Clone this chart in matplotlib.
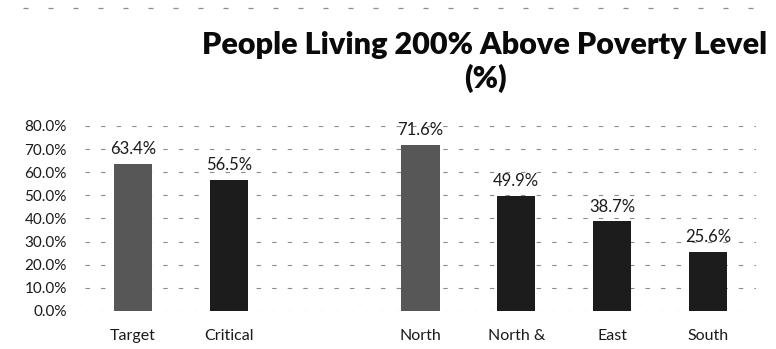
import matplotlib.pyplot as plt
from matplotlib.lines import Line2D
from matplotlib.ticker import FuncFormatter

categories = ['Target', 'Critical', '', 'North', 'North &', 'East', 'South']
values = [63.4, 56.5, None, 71.6, 49.9, 38.7, 25.6]
bar_colors = ['#575757', '#1c1c1c', None, '#575757', '#1c1c1c', '#1c1c1c', '#1c1c1c']
y_ticks = [0, 10, 20, 30, 40, 50, 60, 70, 80]

plt.rcParams['font.family'] = ['Lato', 'DejaVu Sans']

fig = plt.figure(figsize=(7.76, 3.49), dpi=100)
ax = fig.add_axes([0.1095, 0.109, 0.8645, 0.53])

for i, (v, c) in enumerate(zip(values, bar_colors)):
    if v is None:
        continue
    ax.bar(i, v, width=0.4, color=c, zorder=3)
    ax.annotate(f'{v:.1f}%', (i, v), xytext=(0, 5), textcoords='offset points',
                ha='center', va='bottom', fontsize=12, color='#1a1a1a')

ax.set_xlim(-0.5, len(categories) - 0.5)
ax.set_ylim(0, 80)
ax.set_yticks(y_ticks)
ax.yaxis.set_major_formatter(FuncFormatter(lambda v, p: f'{v:.1f}%'))
ax.set_xticks(range(len(categories)))
ax.set_xticklabels(categories)
ax.tick_params(axis='y', length=0, pad=13, labelsize=11, labelcolor='#1a1a1a')
ax.tick_params(axis='x', length=0, pad=13, labelsize=11.5, labelcolor='#1a1a1a')

ax.grid(axis='y', color='#8c8c8c', linestyle=(0, (4, 10)), linewidth=0.8, zorder=0)
for s in ax.spines.values():
    s.set_visible(False)

fig.text(0.625, 0.871, 'People Living 200% Above Poverty Level', ha='center', va='center',
         fontsize=22, fontweight='heavy', color='#0a0a0a')
fig.text(0.625, 0.776, '(%)', ha='center', va='center',
         fontsize=22, fontweight='heavy', color='#0a0a0a')

# dashed frame edge along the top
fig.add_artist(Line2D([0.03, 0.99], [0.977, 0.977], transform=fig.transFigure,
                      color='#8c8c8c', linestyle=(0, (4, 16)), linewidth=0.9))

fig.savefig('out.png', dpi=100)
